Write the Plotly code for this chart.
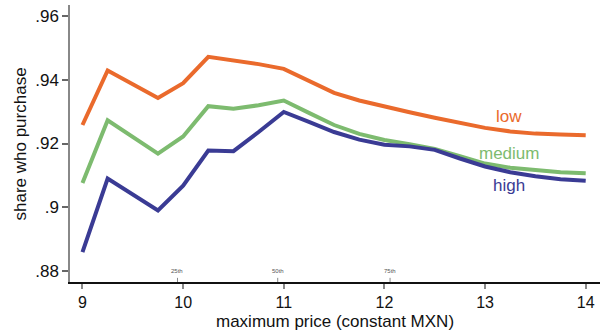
import plotly.graph_objects as go

# ---- data ----
price = [9, 9.25, 9.75, 10, 10.25, 10.5, 10.75, 11, 11.25, 11.5, 11.75, 12,
         12.25, 12.5, 12.75, 13, 13.25, 13.5, 13.75, 14]
low = [.9258, .9429, .9343, .9389, .9472, .9462, .9449, .9434, .9398, .9359,
       .9335, .9315, .9298, .9281, .9264, .9249, .9238, .9231, .9228, .9226]
medium = [.9076, .9273, .9168, .9222, .9317, .9309, .9320, .9335, .9296, .9258,
          .9230, .9211, .9198, .9183, .9160, .9137, .9124, .9116, .9110, .9107]
high = [.8859, .9090, .8990, .9068, .9178, .9176, .9236, .9299, .9268, .9236,
        .9212, .9196, .9191, .9180, .9153, .9128, .9110, .9097, .9088, .9083]

series_names = ["low", "medium", "high"]
series_values = [low, medium, high]
series_colors = ["#EA6A2C", "#7DBB6F", "#3A3B94"]
label_x = [13.24, 13.24, 13.24]
label_y = [.9286, .9170, .9067]

percentile_pos = [9.944, 10.94, 12.056]
percentile_text = ["25th", "50th", "75th"]

x_ticks = [9, 10, 11, 12, 13, 14]
y_ticks = [.88, .90, .92, .94, .96]
y_ticktext = [".88", ".9", ".92", ".94", ".96"]

FONT = "Liberation Sans, Arial, Helvetica, sans-serif"

fig = go.Figure()
for name, vals, col in zip(series_names, series_values, series_colors):
    fig.add_trace(go.Scatter(x=price, y=vals, mode="lines", name=name,
                             line=dict(color=col, width=4), showlegend=False))

for name, col, lx, ly in zip(series_names, series_colors, label_x, label_y):
    fig.add_annotation(x=lx, y=ly, text=name, showarrow=False,
                       font=dict(family=FONT, size=17, color=col),
                       xanchor="center", yanchor="middle")

for p, t in zip(percentile_pos, percentile_text):
    fig.add_shape(type="line", xref="x", yref="paper", x0=p, x1=p, y0=0, y1=0.015,
                  line=dict(color="#888888", width=1))
    fig.add_annotation(x=p, y=0.02, xref="x", yref="paper", text=t, showarrow=False,
                       font=dict(family=FONT, size=6, color="#555555"),
                       xanchor="center", yanchor="bottom")

# axis titles as annotations for exact placement (plot area: x 70..600, y 5..282)
fig.add_annotation(x=0.5, y=-(321 - 282) / 277, xref="paper", yref="paper",
                   text="maximum price (constant MXN)", showarrow=False,
                   font=dict(family=FONT, size=17, color="#111111"),
                   xanchor="center", yanchor="middle")
fig.add_annotation(x=(20 - 70) / 530, y=0.5, xref="paper", yref="paper",
                   text="share who purchase", showarrow=False, textangle=-90,
                   font=dict(family=FONT, size=17, color="#111111"),
                   xanchor="center", yanchor="middle")

fig.update_layout(
    width=605, height=332,
    margin=dict(l=70, r=5, t=5, b=50, autoexpand=False),
    paper_bgcolor="white", plot_bgcolor="white",
    font=dict(family=FONT, size=16, color="#111111"),
)

fig.update_xaxes(
    range=[8.876, 14.142], tickvals=x_ticks, showgrid=False, zeroline=False,
    showline=True, linecolor="#111111", linewidth=1.5, automargin=False,
    ticks="outside", ticklen=5, tickcolor="#888888", tickwidth=1.5,
    tickfont=dict(size=16),
)
fig.update_yaxes(
    range=[.87655, .96345], tickvals=y_ticks, ticktext=y_ticktext,
    showgrid=False, zeroline=False, automargin=False,
    showline=True, linecolor="#888888", linewidth=1.5,
    ticks="outside", ticklen=6, tickcolor="#666666", tickwidth=1.5,
    tickfont=dict(size=17),
)

fig.write_html("out.html", config={"displayModeBar": False},
               post_script="document.body.style.margin='0';")
